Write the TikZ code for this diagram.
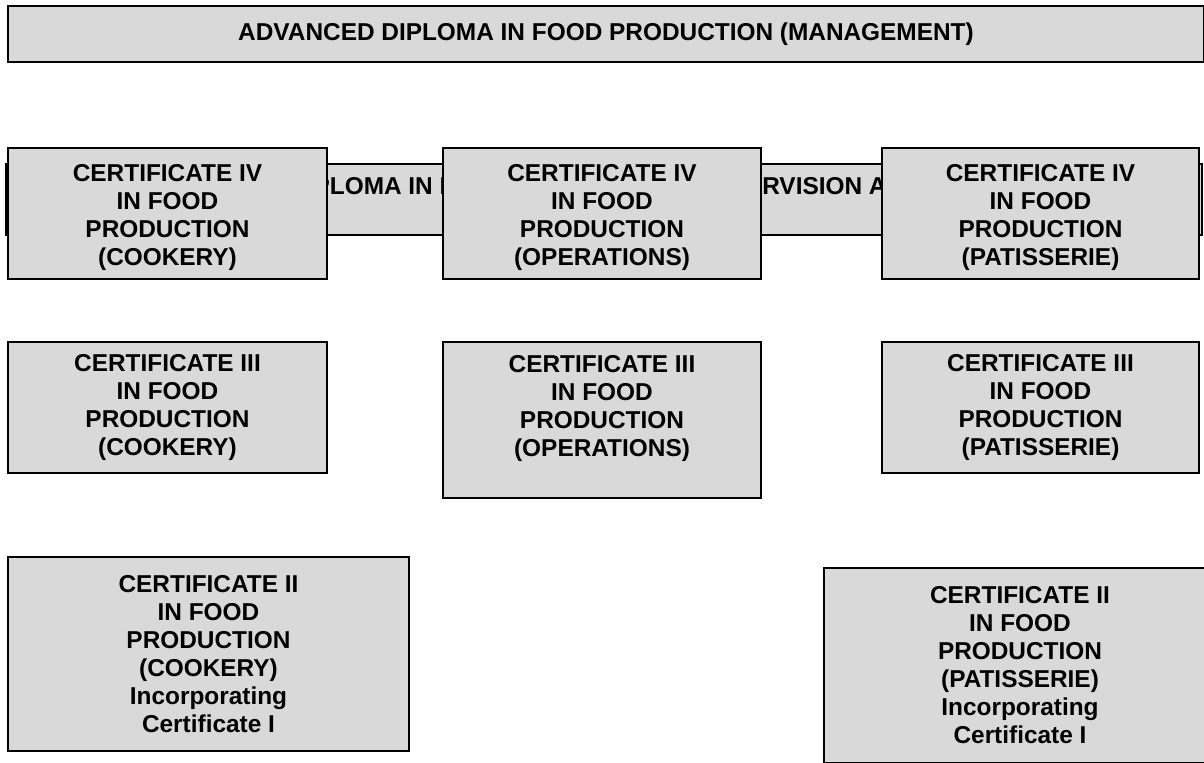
\documentclass[tikz,border=0pt]{standalone}
\usepackage{fontspec}
\setmainfont{Liberation Sans}
\definecolor{boxgray}{HTML}{D9D9D9}
\begin{document}
\begin{tikzpicture}[x=0.5pt,y=-0.5pt,
  txt/.style={align=center, font=\bfseries\fontsize{12.2}{14}\selectfont, inner sep=0pt},
  box/.style={draw=black, line width=1pt, fill=boxgray, txt}]
\useasboundingbox (0,0) rectangle (1204,763);
% top
\node[box, minimum width=598pt, minimum height=28pt] (adv) at (606,34)
  {ADVANCED DIPLOMA IN FOOD PRODUCTION (MANAGEMENT)};
% background bar (partly hidden)
\node[box, minimum width=598pt, minimum height=35.5pt] (dip) at (604,199.5) {};
\node[txt] (diptext) at (605.5,202)
  {DIPLOMA IN FOOD PRODUCTION (SUPERVISION AND\\MANAGEMENT)};
% Certificate IV
\node[box, minimum width=159.5pt, minimum height=65.5pt] (c4) at (167.5,213.5) {};
\node[txt] (c4text) at (167.5,218)
  {CERTIFICATE IV\\IN FOOD\\PRODUCTION\\(COOKERY)};
\node[box, minimum width=159pt, minimum height=65.5pt] (o4) at (602,213.5) {};
\node[txt] (o4text) at (602,218)
  {CERTIFICATE IV\\IN FOOD\\PRODUCTION\\(OPERATIONS)};
\node[box, minimum width=158.5pt, minimum height=65.5pt] (p4) at (1040.5,213.5) {};
\node[txt] (p4text) at (1040.5,218)
  {CERTIFICATE IV\\IN FOOD\\PRODUCTION\\(PATISSERIE)};
% Certificate III
\node[box, minimum width=159.5pt, minimum height=65.5pt] (c3) at (167.5,407.5)
  {CERTIFICATE III\\IN FOOD\\PRODUCTION\\(COOKERY)};
\node[box, minimum width=159pt, minimum height=78pt] (o3) at (602,420)
  {CERTIFICATE III\\IN FOOD\\PRODUCTION\\(OPERATIONS)\\\mbox{}};
\node[box, minimum width=158.5pt, minimum height=65.5pt] (p3) at (1040.5,407.5)
  {CERTIFICATE III\\IN FOOD\\PRODUCTION\\(PATISSERIE)};
% Certificate II
\node[box, minimum width=200.5pt, minimum height=97pt] (c2) at (208.5,654)
  {CERTIFICATE II\\IN FOOD\\PRODUCTION\\(COOKERY)\\Incorporating\\Certificate I};
\node[box, minimum width=196pt, minimum height=97.5pt] (p2) at (1020,665.5)
  {CERTIFICATE II\\IN FOOD\\PRODUCTION\\(PATISSERIE)\\Incorporating\\Certificate I};
\end{tikzpicture}
\end{document}
